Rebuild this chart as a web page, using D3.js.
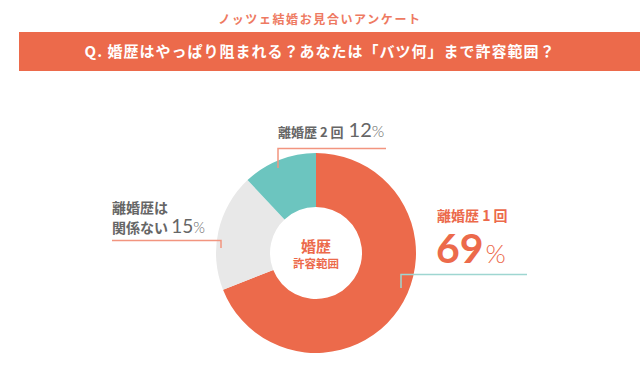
<!DOCTYPE html>
<html>
<head>
<meta charset="utf-8">
<script src="https://cdn.jsdelivr.net/npm/d3@7"></script>
<style>
  body { margin: 0; background: #fff; }
  svg { display: block; font-family: "Noto Sans CJK JP", sans-serif; }
</style>
</head>
<body>
<div id="chart"></div>
<script>
// Data
const categories = ["離婚歴１回", "離婚歴は関係ない", "離婚歴２回"];
const shares = [69, 19, 12];          // slice sizes as drawn
const percentLabels = ["69", "15", "12"];
const colors = ["#EC6A4B", "#E8E8E8", "#6CC5BF"];

const subtitle = "ノッツェ結婚お見合いアンケート";
const title = "Q. 婚歴はやっぱり阻まれる？あなたは「バツ何」まで許容範囲？";

const width = 640;
const height = 376;
const cx = 316, cy = 253;
const outerR = 100, innerR = 46;

const svg = d3.select("#chart")
    .append("svg")
    .attr("width", width)
    .attr("height", height);

// Header
svg.append("text")
    .attr("x", 320)
    .attr("y", 24)
    .attr("text-anchor", "middle")
    .attr("font-size", "12px")
    .attr("font-weight", "bold")
    .attr("fill", "#EE7A62")
    .attr("letter-spacing", "1.6px")
    .text(subtitle);

svg.append("rect")
    .attr("x", 19)
    .attr("y", 32)
    .attr("width", width - 19)
    .attr("height", 39)
    .attr("fill", "#EC6A4B");

svg.append("text")
    .attr("x", 320)
    .attr("y", 57)
    .attr("text-anchor", "middle")
    .attr("font-size", "15px")
    .attr("font-weight", "bold")
    .attr("letter-spacing", "1px")
    .attr("fill", "#fff")
    .text(title);

// Donut
const pie = d3.pie().sort(null).value(d => d);
const arc = d3.arc().innerRadius(innerR).outerRadius(outerR);

const gPie = svg.append("g")
    .attr("transform", `translate(${cx}, ${cy})`);

gPie.selectAll("path")
    .data(pie(shares))
    .join("path")
    .attr("d", arc)
    .attr("fill", (d, i) => colors[i]);

// Center text
gPie.append("text")
    .attr("y", -1)
    .attr("text-anchor", "middle")
    .attr("font-size", "15px")
    .attr("font-weight", "bold")
    .attr("fill", "#EC6A4B")
    .text("婚歴");
gPie.append("text")
    .attr("y", 15)
    .attr("text-anchor", "middle")
    .attr("font-size", "11.5px")
    .attr("font-weight", "bold")
    .attr("fill", "#EC6A4B")
    .text("許容範囲");

// Leader lines
const leaders = svg.append("g")
    .attr("fill", "none")
    .attr("stroke-width", 1.5);

leaders.append("path")
    .attr("d", "M278,168 V148.5 H386")
    .attr("stroke", "#F2957F");
leaders.append("path")
    .attr("d", "M112,240.5 H221 V248")
    .attr("stroke", "#F2957F");
leaders.append("path")
    .attr("d", "M401,288 V274.5 H527")
    .attr("stroke", "#9ED6D1");

// Labels
const numFont = "Lato, 'Open Sans', sans-serif";

// 離婚歴2回
const l2 = svg.append("text")
    .attr("x", 278)
    .attr("y", 137)
    .attr("fill", "#666");
l2.append("tspan")
    .attr("font-size", "13px")
    .attr("font-weight", "bold")
    .text("離婚歴 2 回 ");
l2.append("tspan")
    .attr("font-family", numFont)
    .attr("font-size", "20px")
    .attr("dx", 2)
    .text(percentLabels[2]);
l2.append("tspan")
    .attr("font-family", numFont)
    .attr("font-weight", 300)
    .attr("font-size", "16px")
    .text("%");

// 離婚歴は関係ない
svg.append("text")
    .attr("x", 112)
    .attr("y", 213)
    .attr("fill", "#666")
    .attr("font-size", "14px")
    .attr("font-weight", "bold")
    .text("離婚歴は");
const l1 = svg.append("text")
    .attr("x", 112)
    .attr("y", 233)
    .attr("fill", "#666");
l1.append("tspan")
    .attr("font-size", "14px")
    .attr("font-weight", "bold")
    .text("関係ない ");
l1.append("tspan")
    .attr("font-family", numFont)
    .attr("font-size", "19px")
    .text(percentLabels[1]);
l1.append("tspan")
    .attr("font-family", numFont)
    .attr("font-weight", 300)
    .attr("font-size", "15px")
    .text("%");

// 離婚歴1回
svg.append("text")
    .attr("x", 437)
    .attr("y", 221)
    .attr("fill", "#EC6A4B")
    .attr("font-size", "14px")
    .attr("font-weight", "bold")
    .text("離婚歴 1 回");
const l0 = svg.append("text")
    .attr("x", 436)
    .attr("y", 263)
    .attr("fill", "#EC6A4B")
    .attr("font-family", numFont);
l0.append("tspan")
    .attr("font-size", "41px")
    .attr("font-weight", "bold")
    .text(percentLabels[0]);
l0.append("tspan")
    .attr("font-size", "26px")
    .attr("font-weight", 300)
    .attr("dx", 2)
    .text("%");
</script>
</body>
</html>
